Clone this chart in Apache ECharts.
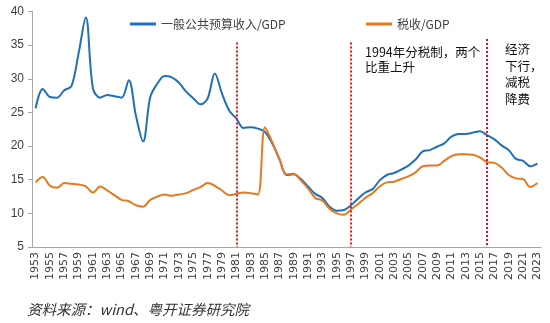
<!DOCTYPE html>
<html><head><meta charset="utf-8">
<script src="https://cdn.jsdelivr.net/npm/echarts@6/dist/echarts.min.js"></script>
<style>html,body{margin:0;padding:0;background:#fff;}#c{width:550px;height:323px;}</style>
</head><body><div id="c"></div>
<script>
var years = [];
for (var y = 1953; y <= 2023; y++) years.push(String(y));
var budgetRevenueGDP = [25.6,28.5,27.3,27.2,28.3,28.9,33.8,39.1,28.6,27.2,27.6,27.4,27.2,29.8,24.5,20.7,27.3,29.3,30.4,30.2,29.4,28.1,27.1,26.2,27.1,30.8,27.8,25.3,24.1,22.7,22.8,22.6,22.1,20.4,18.1,15.7,15.8,15.1,14.0,12.9,12.3,11.0,10.4,10.5,11.2,12.2,13.1,13.6,14.9,15.7,16.0,16.5,17.1,18.0,19.2,19.4,19.9,20.4,21.4,21.8,21.8,22.0,22.2,21.6,21.0,20.1,19.4,18.1,17.8,17.0,17.4];
var taxGDP = [14.6,15.4,14.1,13.8,14.5,14.4,14.3,14.0,13.1,14.0,13.4,12.7,12.0,11.8,11.2,11.0,12.0,12.5,12.8,12.6,12.8,13.0,13.5,13.9,14.5,14.1,13.4,12.7,12.9,13.1,13.0,12.8,22.8,20.6,18.1,15.8,15.9,14.9,13.7,12.3,11.9,10.7,10.0,9.8,10.6,11.4,12.3,13.0,14.0,14.6,14.7,15.1,15.5,16.1,17.0,17.1,17.1,17.8,18.5,18.8,18.8,18.7,18.3,17.6,17.5,16.8,15.7,15.2,15.1,13.9,14.5];
var seriesNames = ['一般公共预算收入/GDP', '税收/GDP'];
var markYears = ['1981', '1997', '2016'];
var markTops = [35.4, 35.4, 35.9];
var yTicks = [5, 40, 5];
var note1 = '1994年分税制，两个\n比重上升';
var note2 = '经济\n下行，\n减税\n降费';
var source = '资料来源：wind、粤开证券研究院';

var chart = echarts.init(document.getElementById('c'));
var cjk = '"Noto Sans CJK SC", "Liberation Sans", sans-serif';
var markData = markYears.map(function (yr, i) {
  return [{ coord: [yr, markTops[i]] }, { coord: [yr, yTicks[0]] }];
});
chart.setOption({
  animation: false,
  textStyle: { fontFamily: cjk },
  grid: { left: 32, right: 9, top: 11.5, bottom: 76 },
  legend: [
    { data: [seriesNames[0]], left: 125, top: 13, itemWidth: 26, itemHeight: 3, itemGap: 4,
      textStyle: { fontSize: 12, color: '#404040', fontFamily: cjk }, icon: 'rect' },
    { data: [seriesNames[1]], left: 361, top: 13, itemWidth: 26, itemHeight: 3,
      textStyle: { fontSize: 12, color: '#404040', fontFamily: cjk }, icon: 'rect' }
  ],
  xAxis: {
    type: 'category', data: years, boundaryGap: true,
    axisLine: { lineStyle: { color: '#a6a6a6' } },
    axisTick: { interval: 1, length: 4, lineStyle: { color: '#a6a6a6' } },
    axisLabel: { interval: 1, rotate: 90, fontSize: 11, color: '#404040', margin: 5, fontFamily: '"DejaVu Sans", sans-serif' }
  },
  yAxis: {
    type: 'value', min: yTicks[0], max: yTicks[1], interval: yTicks[2],
    splitLine: { show: false },
    axisLine: { show: true, lineStyle: { color: '#a6a6a6' } },
    axisTick: { show: true, length: 4, lineStyle: { color: '#a6a6a6' } },
    axisLabel: { fontSize: 12, color: '#404040', margin: 8, fontFamily: '"Liberation Sans", sans-serif' }
  },
  series: [
    { name: seriesNames[0], type: 'line', data: budgetRevenueGDP, smooth: 0.35, showSymbol: false,
      lineStyle: { width: 2, color: '#2070B6' }, itemStyle: { color: '#2070B6' },
      markLine: { silent: true, symbol: ['none', 'none'], label: { show: false },
        lineStyle: { color: '#e8101a', type: [2, 2], width: 2 }, data: markData } },
    { name: seriesNames[1], type: 'line', data: taxGDP, smooth: 0.35, showSymbol: false,
      lineStyle: { width: 2, color: '#E5791E' }, itemStyle: { color: '#E5791E' } }
  ],
  graphic: [
    { type: 'text', left: 365, top: 45, style: { text: note1, fontSize: 12.5, lineHeight: 15, fill: '#111', fontFamily: cjk } },
    { type: 'text', left: 505, top: 41, style: { text: note2, fontSize: 12.5, lineHeight: 16.5, fill: '#111', fontFamily: cjk } },
    { type: 'text', left: 27, top: 302, style: { text: source, fontSize: 14.5, fontStyle: 'italic', fill: '#333', fontFamily: cjk } }
  ]
});
</script></body></html>
